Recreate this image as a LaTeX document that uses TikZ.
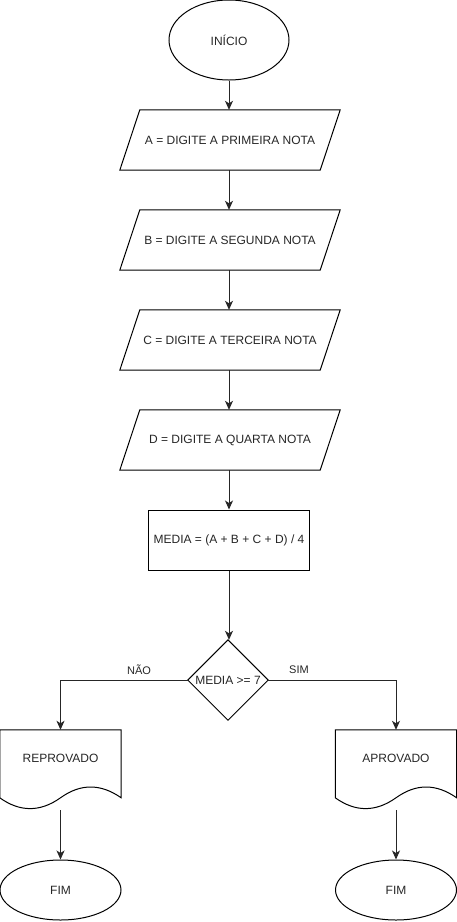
\documentclass[tikz,border=0pt]{standalone}
\usepackage{fontspec}
\setmainfont{Liberation Sans}
\usetikzlibrary{arrows.meta,shapes.geometric,calc}
\tikzset{
  x=1pt, y=-1pt,
  base/.style={font=\fontsize{12}{14}\selectfont, text=black!85, inner sep=0pt},
  term/.style={base, ellipse, draw, line width=1pt},
  hold/.style={base, draw=none, minimum width=200pt, minimum height=60pt},
  procbox/.style={base, draw, line width=1pt, minimum width=161pt, minimum height=60pt},
  decbox/.style={base, draw=none, minimum width=80pt, minimum height=80pt},
  docbox/.style={base, draw=none, minimum width=121pt, minimum height=80pt},
  shp/.style={line width=1pt, line join=miter},
  arr/.style={line width=1pt, draw=black!85, -{Stealth[length=9pt,width=8pt,inset=2.5pt]}},
  lbl/.style={base, font=\fontsize{11}{13}\selectfont}
}
\begin{document}
\begin{tikzpicture}
\useasboundingbox (0,0) rectangle (457,922);
% start
\node[term, minimum width=120pt, minimum height=80pt] (ini) at (229,40) {INÍCIO};
% inputs
\node[hold] (a) at (230,140) {A = DIGITE A PRIMEIRA NOTA};
\node[hold] (b) at (230,240) {B = DIGITE A SEGUNDA NOTA};
\node[hold] (c) at (230,340) {C = DIGITE A TERCEIRA NOTA};
\node[hold] (d) at (230,440) {D = DIGITE A QUARTA NOTA};
\foreach \n in {a,b,c,d}{
  \draw[shp] ($(\n.south west)+(-10,0)$) -- ($(\n.south east)+(-10,0)$)
    -- ($(\n.north east)+(10,0)$) -- ($(\n.north west)+(10,0)$) -- cycle;
}
% process
\node[procbox] (m) at (229,540) {MEDIA = (A + B + C + D) / 4};
% decision
\node[decbox] (dec) at (228,680) {MEDIA >= 7};
\draw[shp] (dec.north) -- (dec.east) -- (dec.south) -- (dec.west) -- cycle;
% documents
\node[docbox] (rep) at (60.5,770) {};
\node[docbox] (apr) at (396,770) {};
\foreach \n in {rep,apr}{
  \draw[shp] (\n.north west) -- (\n.north east) -- ($(\n.north east)+(0,68)$)
    .. controls ($(\n.north west)+(100.83,53.6)$) and ($(\n.north west)+(80.67,53.6)$) .. ($(\n.north)+(0,68)$)
    .. controls ($(\n.north west)+(40.33,82.4)$) and ($(\n.north west)+(20.17,82.4)$) .. ($(\n.north west)+(0,68)$)
    -- cycle;
}
\node[base] (repT) at (60.5,758) {REPROVADO};
\node[base] (aprT) at (396,758) {APROVADO};
% ends
\node[term, minimum width=121pt, minimum height=60pt] (fim1) at (60.5,890) {FIM};
\node[term, minimum width=121pt, minimum height=60pt] (fim2) at (396,890) {FIM};
% connectors
\draw[arr] (ini.south) -- (ini.south |- a.north);
\draw[arr] (ini.south |- a.south) -- (ini.south |- b.north);
\draw[arr] (ini.south |- b.south) -- (ini.south |- c.north);
\draw[arr] (ini.south |- c.south) -- (ini.south |- d.north);
\draw[arr] (ini.south |- d.south) -- (m.north);
\draw[arr] (m.south) -- (m.south |- dec.north);
\draw[arr] (dec.west) -| (rep.north);
\draw[arr] (dec.east) -| (apr.north);
\draw[arr] (rep.south) -- (fim1.north);
\draw[arr] (apr.south) -- (fim2.north);
% labels
\node[lbl] (nao) at (139,670) {NÃO};
\node[lbl] (sim) at (299,670) {SIM};
\end{tikzpicture}
\end{document}
